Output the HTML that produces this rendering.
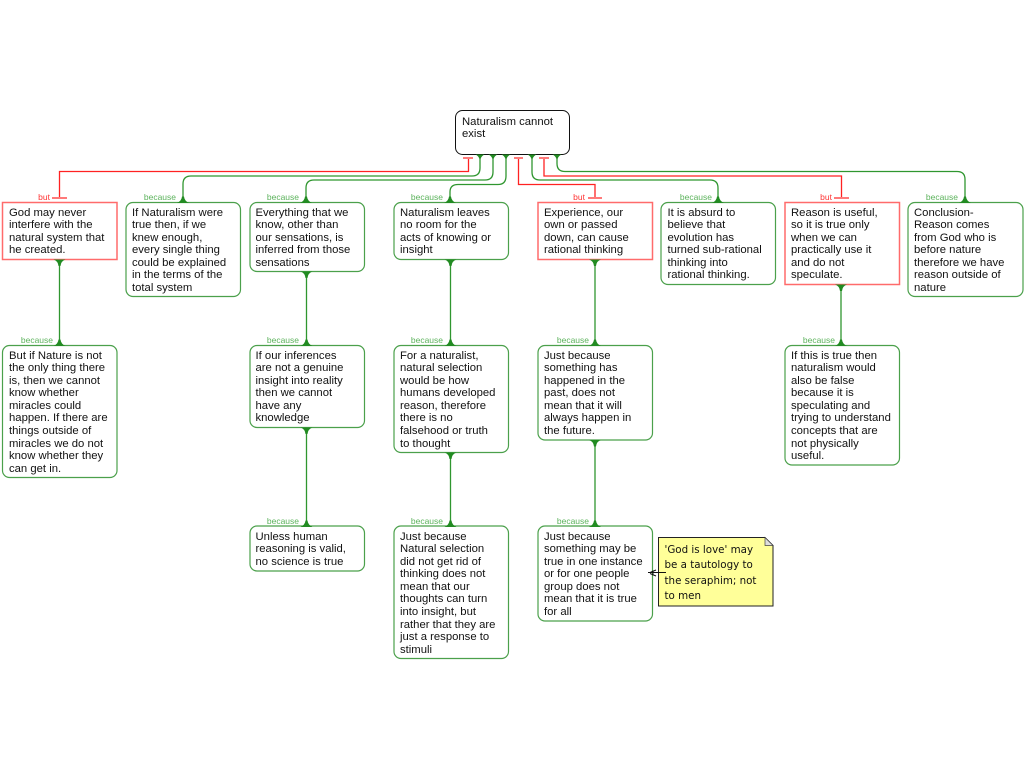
<!DOCTYPE html>
<html>
<head>
<meta charset="utf-8">
<style>
html,body{margin:0;padding:0;background:#fff;width:1024px;height:768px;overflow:hidden}
#c{position:relative;width:1024px;height:768px;font-family:"Liberation Sans",sans-serif}
svg{position:absolute;left:0;top:0}
.t{position:absolute;font-size:11.3px;line-height:12.6px;color:#111;white-space:pre;margin-top:.5px}
.l{position:absolute;font-size:8.5px;line-height:10px;white-space:pre;text-align:right;width:50px}
.g{color:#5cb35c}.r{color:#f33}
.n{position:absolute;font-family:"DejaVu Sans",sans-serif;font-size:10.3px;line-height:15.5px;color:#111;white-space:pre}
</style>
</head>
<body>
<div id="c">
<svg width="1024" height="768" viewBox="0 0 1024 768">
<g fill="none" stroke="#2f962f" stroke-width="1.300">
<path d="M480 154V168Q480 176 472 176H191Q183 176 183 184V198"/>
<path d="M493 154V172Q493 180 485 180H314Q306 180 306 188V198"/>
<path d="M506 154V176Q506 184.500 498 184.500H458Q450 184.500 450 192V198"/>
<path d="M532 154V172Q532 180 540 180H710Q718 180 718 188V198"/>
<path d="M557 154V163.500Q557 171.500 565 171.500H957Q965 171.500 965 179.500V198"/>
<path d="M59.500 260V342M306.500 272V342M450.500 260V342M595 260V342M841 285V342M306.500 428V523M450.500 453V523M595 440V523"/>
</g>
<g fill="none" stroke="#f22" stroke-width="1.300">
<path d="M468.500 159V171.500H59.500V198"/>
<path d="M518.500 159V184.500H595V198"/>
<path d="M544 159V176H841.500V198"/>
</g>
<g stroke="#ff7a7a" stroke-width="2" fill="none">
<path d="M463 158H473M514 158H523M539 158H549M52 198H67M588 198H602M834 198H849"/>
</g>
<rect x="455.500" y="110.500" width="114" height="44" rx="7" fill="#fff" stroke="#111"/>
<g fill="#fff" stroke="#ff6b6b" stroke-width="1.500">
<rect x="2.500" y="202.500" width="114.500" height="57"/>
<rect x="538" y="202.500" width="114.500" height="57"/>
<rect x="785" y="202.500" width="114.500" height="82"/>
</g>
<g fill="#fff" stroke="#4ba04b" stroke-width="1.200">
<rect x="126" y="202.500" width="114.500" height="94" rx="7"/>
<rect x="250" y="202.500" width="114.500" height="69" rx="7"/>
<rect x="394" y="202.500" width="114.500" height="57" rx="7"/>
<rect x="661" y="202.500" width="114.500" height="82" rx="7"/>
<rect x="908" y="202.500" width="115" height="94" rx="7"/>
<rect x="2.500" y="345.500" width="114.500" height="132" rx="7"/>
<rect x="250" y="345.500" width="114.500" height="82" rx="7"/>
<rect x="394" y="345.500" width="114.500" height="107" rx="7"/>
<rect x="538" y="345.500" width="114.500" height="94.500" rx="7"/>
<rect x="785" y="345.500" width="114.500" height="119.500" rx="7"/>
<rect x="250" y="526" width="114.500" height="45" rx="7"/>
<rect x="394" y="526" width="114.500" height="132.500" rx="7"/>
<rect x="538" y="526" width="114.500" height="95" rx="7"/>
</g>
<g fill="#228b22">
<path d="M475.500 154.500H484.500Q481.500 156 480.800 158.500H479.200Q478.500 156 475.500 154.500Z"/>
<path d="M488.500 154.500H497.500Q494.500 156 493.800 158.500H492.200Q491.500 156 488.500 154.500Z"/>
<path d="M501.500 154.500H510.500Q507.500 156 506.800 158.500H505.200Q504.500 156 501.500 154.500Z"/>
<path d="M527.500 154.500H536.500Q533.500 156 532.800 158.500H531.200Q530.500 156 527.500 154.500Z"/>
<path d="M552.500 154.500H561.500Q558.500 156 557.800 158.500H556.200Q555.500 156 552.500 154.500Z"/>
<path d="M177 203H189Q184.500 201 184 196.500H182Q181.500 201 177 203Z"/>
<path d="M300 203H312Q307.500 201 307 196.500H305Q304.500 201 300 203Z"/>
<path d="M444 203H456Q451.500 201 451 196.500H449Q448.500 201 444 203Z"/>
<path d="M712 203H724Q719.500 201 719 196.500H717Q716.500 201 712 203Z"/>
<path d="M959 203H971Q966.500 201 966 196.500H964Q963.500 201 959 203Z"/>
<path d="M53.500 346H65.500Q61 344 60.500 339.500H58.500Q58 344 53.500 346Z"/>
<path d="M300.500 346H312.500Q308 344 307.500 339.500H305.500Q305 344 300.500 346Z"/>
<path d="M444.500 346H456.500Q452 344 451.500 339.500H449.500Q449 344 444.500 346Z"/>
<path d="M589 346H601Q596.500 344 596 339.500H594Q593.500 344 589 346Z"/>
<path d="M835 346H847Q842.500 344 842 339.500H840Q839.500 344 835 346Z"/>
<path d="M300.500 527H312.500Q308 525 307.500 520.500H305.500Q305 525 300.500 527Z"/>
<path d="M444.500 527H456.500Q452 525 451.500 520.500H449.500Q449 525 444.500 527Z"/>
<path d="M589 527H601Q596.500 525 596 520.500H594Q593.500 525 589 527Z"/>
<path d="M53.500 259.500H65.500Q61 261 60.500 266H58.500Q58 261 53.500 259.500Z"/>
<path d="M300.500 271.500H312.500Q308 273 307.500 278H305.500Q305 273 300.500 271.500Z"/>
<path d="M444.500 259.500H456.500Q452 261 451.500 266H449.500Q449 261 444.500 259.500Z"/>
<path d="M589 259.500H601Q596.500 261 596 266H594Q593.500 261 589 259.500Z"/>
<path d="M835 284.500H847Q842.500 286 842 291H840Q839.500 286 835 284.500Z"/>
<path d="M300.500 427.500H312.500Q308 429 307.500 434H305.500Q305 429 300.500 427.500Z"/>
<path d="M444.500 452.500H456.500Q452 454 451.500 459H449.500Q449 454 444.500 452.500Z"/>
<path d="M589 440H601Q596.500 441.500 596 446.500H594Q593.500 441.500 589 440Z"/>
</g>
<path d="M658.500 537.500H765L773 545.500V606H658.500Z" fill="#ffff99" stroke="#222"/>
<path d="M765 537.500V545.500H773Z" fill="#ddd" stroke="#444" stroke-width=".7"/>
<path d="M648 572.500H666M650 572.500L656 570M650 573.500L656 576M653 570.500V575.500" stroke="#111" fill="none"/>
</svg>

<div class="t" style="left:462px;top:115px">Naturalism cannot
exist</div>

<div class="l r" style="left:0;top:192px">but</div>
<div class="l g" style="left:126px;top:192px">because</div>
<div class="l g" style="left:249px;top:192px">because</div>
<div class="l g" style="left:393px;top:192px">because</div>
<div class="l r" style="left:535px;top:192px">but</div>
<div class="l g" style="left:662px;top:192px">because</div>
<div class="l r" style="left:782px;top:192px">but</div>
<div class="l g" style="left:908px;top:192px">because</div>
<div class="l g" style="left:3px;top:335px">because</div>
<div class="l g" style="left:249px;top:335px">because</div>
<div class="l g" style="left:393px;top:335px">because</div>
<div class="l g" style="left:539px;top:335px">because</div>
<div class="l g" style="left:785px;top:335px">because</div>
<div class="l g" style="left:249px;top:516px">because</div>
<div class="l g" style="left:393px;top:516px">because</div>
<div class="l g" style="left:539px;top:516px">because</div>

<div class="t" style="left:9px;top:206px">God may never
interfere with the
natural system that
he created.</div>
<div class="t" style="left:132px;top:206px">If Naturalism were
true then, if we
knew enough,
every single thing
could be explained
in the terms of the
total system</div>
<div class="t" style="left:255.500px;top:206px">Everything that we
know, other than
our sensations, is
inferred from those
sensations</div>
<div class="t" style="left:400px;top:206px">Naturalism leaves
no room for the
acts of knowing or
insight</div>
<div class="t" style="left:544px;top:206px">Experience, our
own or passed
down, can cause
rational thinking</div>
<div class="t" style="left:667.500px;top:206px">It is absurd to
believe that
evolution has
turned sub-rational
thinking into
rational thinking.</div>
<div class="t" style="left:791px;top:206px">Reason is useful,
so it is true only
when we can
practically use it
and do not
speculate.</div>
<div class="t" style="left:914px;top:206px">Conclusion-
Reason comes
from God who is
before nature
therefore we have
reason outside of
nature</div>

<div class="t" style="left:9px;top:349px">But if Nature is not
the only thing there
is, then we cannot
know whether
miracles could
happen. If there are
things outside of
miracles we do not
know whether they
can get in.</div>
<div class="t" style="left:255.500px;top:349px">If our inferences
are not a genuine
insight into reality
then we cannot
have any
knowledge</div>
<div class="t" style="left:400px;top:349px">For a naturalist,
natural selection
would be how
humans developed
reason, therefore
there is no
falsehood or truth
to thought</div>
<div class="t" style="left:544px;top:349px">Just because
something has
happened in the
past, does not
mean that it will
always happen in
the future.</div>
<div class="t" style="left:791px;top:349px">If this is true then
naturalism would
also be false
because it is
speculating and
trying to understand
concepts that are
not physically
useful.</div>

<div class="t" style="left:255.500px;top:530px">Unless human
reasoning is valid,
no science is true</div>
<div class="t" style="left:400px;top:530px">Just because
Natural selection
did not get rid of
thinking does not
mean that our
thoughts can turn
into insight, but
rather that they are
just a response to
stimuli</div>
<div class="t" style="left:544px;top:530px">Just because
something may be
true in one instance
or for one people
group does not
mean that it is true
for all</div>

<div class="n" style="left:664.500px;top:542.500px">'God is love' may
be a tautology to
the seraphim; not
to men</div>
</div>
</body>
</html>
